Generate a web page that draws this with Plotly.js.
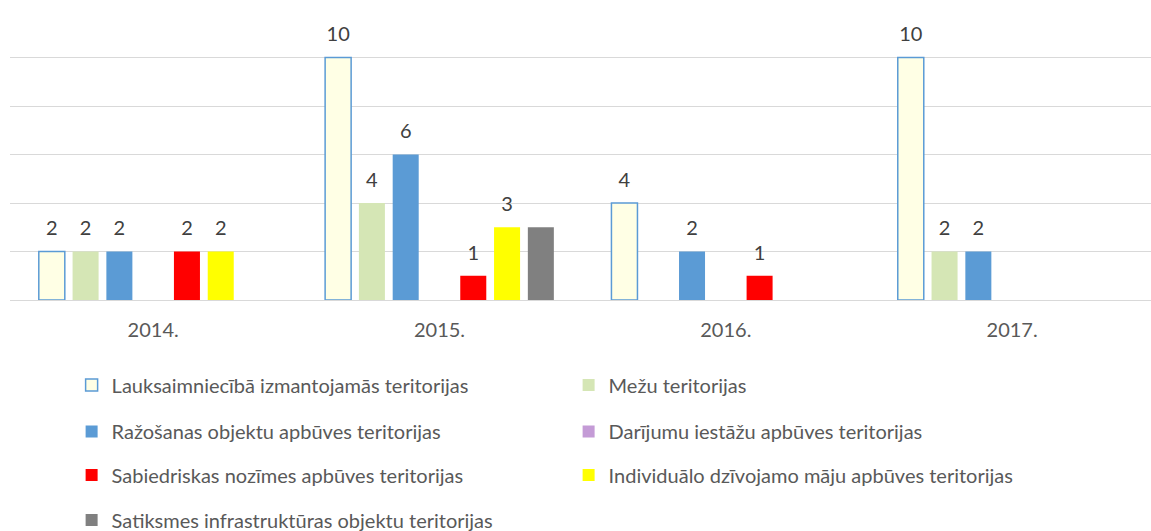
<!DOCTYPE html>
<html><head><meta charset="utf-8">
<script src="https://cdn.plot.ly/plotly-3.0.1.min.js"></script>
<style>html,body{margin:0;padding:0;background:#fff}#chart{width:1151px;height:531px}</style>
</head><body><div id="chart"></div>
<script>
const categories = ['2014.', '2015.', '2016.', '2017.'];
const seriesNames = [
  'Lauksaimniecībā izmantojamās teritorijas',
  'Mežu teritorijas',
  'Ražošanas objektu apbūves teritorijas',
  'Darījumu iestāžu apbūves teritorijas',
  'Sabiedriskas nozīmes apbūves teritorijas',
  'Individuālo dzīvojamo māju apbūves teritorijas',
  'Satiksmes infrastruktūras objektu teritorijas'
];
const lauksaimniecibaValues = [2, 10, 4, 10];
const mezuValues = [2, 4, 0, 2];
const razosanasValues = [2, 6, 2, 2];
const darijumuValues = [0, 0, 0, 0];
const sabiedriskasValues = [2, 1, 1, 0];
const individualoValues = [2, 3, 0, 0];
const satiksmesValues = [0, 3, 0, 0];
const showLabels = [true, true, true, true, true, true, false];

const allValues = [lauksaimniecibaValues, mezuValues, razosanasValues, darijumuValues,
                   sabiedriskasValues, individualoValues, satiksmesValues];
const fills = ['#FFFFE5', '#D5E6B5', '#5B9BD5', '#C49BD6', '#FF0000', '#FFFF00', '#808080'];
const lines = ['#5B9BD5', null, null, null, null, null, null];
const legendRow = ['legend', 'legend', 'legend2', 'legend2', 'legend3', 'legend3', 'legend4'];

const FONT = 'Lato, "Open Sans", sans-serif';
const FS = 20;
const LABEL_LIFT = 0.38;
const traces = [];
allValues.forEach((vals, i) => {
  traces.push({
    type: 'bar', x: categories, y: vals, name: seriesNames[i],
    offsetgroup: 'g' + i, legend: legendRow[i],
    marker: {color: fills[i], line: {color: lines[i] || fills[i], width: lines[i] ? 1.5 : 0}},
    hoverinfo: 'skip'
  });
});
allValues.forEach((vals, i) => {
  traces.push({
    type: 'bar', x: categories, y: vals, base: LABEL_LIFT, showlegend: false,
    offsetgroup: 'g' + i,
    marker: {color: 'rgba(0,0,0,0)', line: {width: 0}},
    text: vals.map(v => (showLabels[i] && v > 0) ? String(v) : ''),
    textposition: 'outside', cliponaxis: false, constraintext: 'none',
    textfont: {family: FONT, size: FS, color: '#404040'},
    hoverinfo: 'skip'
  });
});

const legendBase = {orientation: 'h', x: 0.054, xanchor: 'left', yanchor: 'middle',
  entrywidth: 452, entrywidthmode: 'pixels', bgcolor: 'rgba(0,0,0,0)',
  font: {family: FONT, size: FS, color: '#595959'}, traceorder: 'normal', itemclick: false};
const yOf = py => (300 - py) / 291;

const layout = {
  width: 1151, height: 531,
  margin: {l: 10, r: 0, t: 9, b: 231, autoexpand: false},
  paper_bgcolor: '#fff', plot_bgcolor: '#fff',
  barmode: 'group', bargap: 0.174, bargroupgap: 0.23,
  font: {family: FONT, size: FS, color: '#595959'},
  xaxis: {type: 'category', range: [-0.5, 3.485], showgrid: false, ticks: '', showline: false,
          ticklabelstandoff: 16, automargin: false,
          tickfont: {family: FONT, size: FS, color: '#595959'}, fixedrange: true},
  yaxis: {range: [0, 12], dtick: 2, showticklabels: false, ticks: '', gridcolor: '#D9D9D9',
          gridwidth: 1, zeroline: true, zerolinecolor: '#D9D9D9', zerolinewidth: 1, fixedrange: true},
  legend: Object.assign({}, legendBase, {y: yOf(385)}),
  legend2: Object.assign({}, legendBase, {y: yOf(431.5)}),
  legend3: Object.assign({}, legendBase, {y: yOf(475)}),
  legend4: Object.assign({}, legendBase, {y: yOf(520)}),
  showlegend: true
};
Plotly.newPlot('chart', traces, layout, {displayModeBar: false, staticPlot: true});
</script></body></html>
